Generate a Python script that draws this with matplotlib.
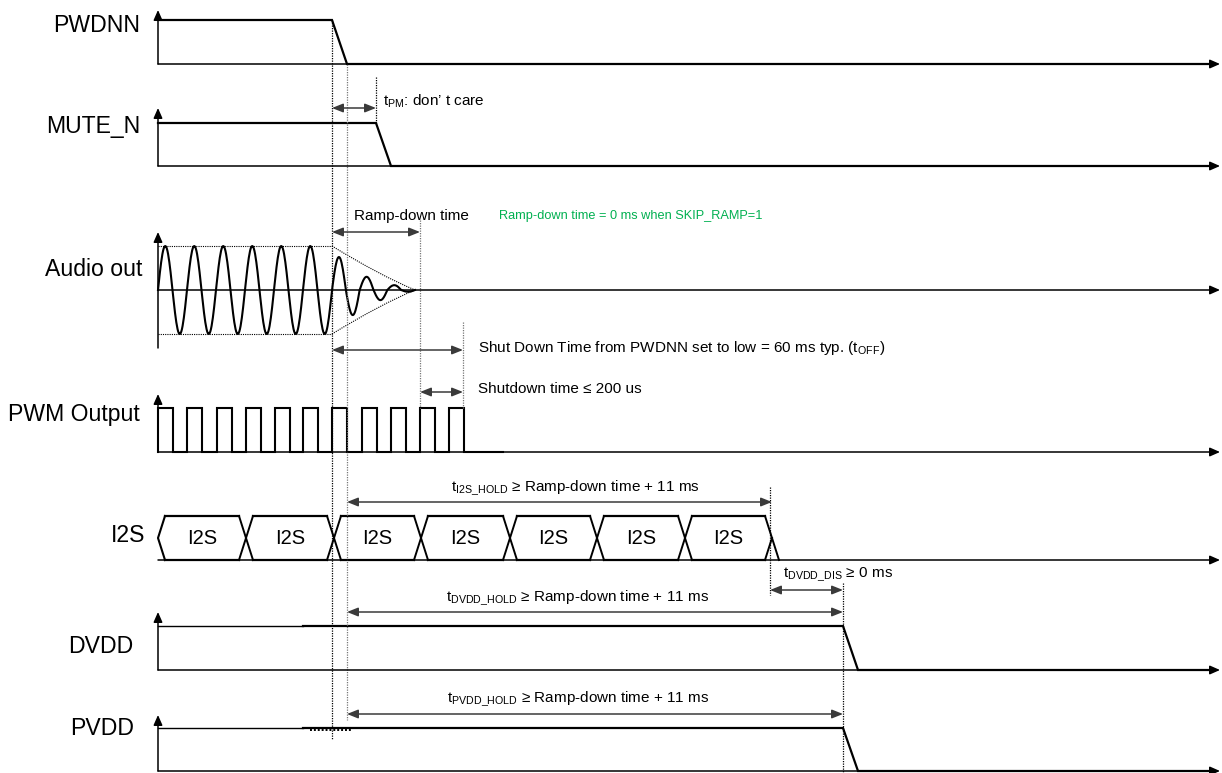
import numpy as np
import matplotlib
matplotlib.use('Agg')
from matplotlib import pyplot
from matplotlib.path import Path
from matplotlib.patches import PathPatch

pyplot.rcParams['font.family'] = ['Liberation Sans', 'DejaVu Sans']
pyplot.rcParams['mathtext.fontset'] = 'custom'
pyplot.rcParams['mathtext.rm'] = 'Liberation Sans'
pyplot.rcParams['mathtext.default'] = 'regular'

# Timing events, in time units from the start of each trace
T_PWDNN_LOW = 174
T_MUTE_LOW = 218
T_AUDIO_SILENT = 257
T_RAMP_END = 262
T_PWM_STOP = 305
T_I2S_STOP = 612
T_SUPPLY_OFF = 685
T_EDGE = 15

# PWM rising edges before the output stage shuts down
PWM_RISES = [0, 29, 59, 88, 117, 145, 174, 204, 233, 262, 291]
PWM_HIGH_TIME = 14.5

# Audio half-wave amplitudes (1 = full scale): steady, then ramping down
AUDIO_STEADY = [1, 1, 1, 1, 1, 1, 1, 1, 1, 1, 1, 1]
AUDIO_RAMP = [0.75, 0.57, 0.30, 0.23, 0.11, 0.04]

# I2S frame boundaries and frame labels
I2S_EDGES = [0, 88, 176, 263, 352, 439, 527, 614]
I2S_LABELS = ['I2S', 'I2S', 'I2S', 'I2S', 'I2S', 'I2S', 'I2S']

# Trace layout (screen rows, y grows downwards)
X0 = 158
T_AXIS_END = 1062
LINE = 'black'
DIM = '#3a3a3a'
GREEN = '#00b050'


def trace_axes(ax, y_low, y_tip, y_start=None, vertical=True):
    head = dict(arrowstyle='-|>,head_length=0.5,head_width=0.22', mutation_scale=12,
                lw=1.1, color=LINE, shrinkA=0, shrinkB=0)
    if vertical:
        ax.annotate('', xy=(0, y_tip), xytext=(0, y_start if y_start else y_low), arrowprops=head)
    ax.annotate('', xy=(T_AXIS_END, y_low), xytext=(0, y_low), arrowprops=head)


def logic_trace(ax, y_high, y_low, t_fall):
    ax.plot([0, t_fall, t_fall + T_EDGE, T_AXIS_END - 8], [y_high, y_high, y_low, y_low],
            color=LINE, lw=1.6, solid_joinstyle='miter')


def dimension(ax, t0, t1, y):
    ax.annotate('', xy=(t1, y), xytext=(t0, y),
                arrowprops=dict(arrowstyle='<|-|>,head_length=0.55,head_width=0.22', mutation_scale=12,
                                lw=1.1, color=DIM, shrinkA=0, shrinkB=0))


def marker(ax, t, y0, y1, color='black'):
    ax.plot([t, t], [y0, y1], color=color, lw=0.9, ls=(0, (1, 1)))


figure = pyplot.figure(figsize=(12.22, 7.73), dpi=100)
ax = figure.add_axes([0, 0, 1, 1])
ax.set_xlim(-X0, 1222 - X0)
ax.set_ylim(773, 0)
ax.axis('off')

label_style = dict(fontsize=16.6, ha='right', va='baseline')
note_style = dict(fontsize=11, ha='left', va='center')

# PWDNN
ax.text(140 - X0, 32.5, 'PWDNN', **label_style)
trace_axes(ax, 64, 10)
logic_trace(ax, 20, 64, T_PWDNN_LOW)

# MUTE_N
ax.text(140 - X0, 133, 'MUTE_N', **label_style)
trace_axes(ax, 166, 108)
logic_trace(ax, 123, 166, T_MUTE_LOW)
dimension(ax, T_PWDNN_LOW, T_MUTE_LOW, 108)
ax.text(383 - X0, 101, 't$_{PM}$: don\u2019 t care', **note_style)

# Audio out
mid, amp = 290, 44
ax.text(142 - X0, 276, 'Audio out', **label_style)
trace_axes(ax, mid, 232, y_start=348)
wave_t, wave_y = [], []
lobes = [(a, T_PWDNN_LOW / len(AUDIO_STEADY), 0, i) for i, a in enumerate(AUDIO_STEADY)]
width_ramp = (T_AUDIO_SILENT - T_PWDNN_LOW) / len(AUDIO_RAMP)
lobes += [(a, width_ramp, T_PWDNN_LOW, i) for i, a in enumerate(AUDIO_RAMP)]
for k, (a, w, start, i) in enumerate(lobes):
    s = start + i * w
    t = np.linspace(s, s + w, 24)
    sign = 1 if k % 2 == 0 else -1
    wave_t.extend(t)
    wave_y.extend(mid - sign * a * amp * np.sin(np.pi * (t - s) / w))
ax.plot(wave_t, wave_y, color=LINE, lw=1.5)
for edge in (mid - amp, mid + amp):
    ax.plot([0, T_PWDNN_LOW], [edge, edge], color=LINE, lw=0.8, ls=(0, (1, 1)))
    bend = mid + (edge - mid) * 0.33
    env = Path([(T_PWDNN_LOW, edge), (222, bend), (T_AUDIO_SILENT, mid)],
               [Path.MOVETO, Path.CURVE3, Path.CURVE3])
    ax.add_patch(PathPatch(env, facecolor='none', edgecolor=LINE, lw=0.8, ls=(0, (1, 1))))
dimension(ax, T_PWDNN_LOW, T_RAMP_END, 232)
ax.text(354 - X0, 216, 'Ramp-down time', **note_style)
ax.text(499 - X0, 216, 'Ramp-down time = 0 ms when SKIP_RAMP=1', fontsize=9.2, color=GREEN,
        ha='left', va='center')
dimension(ax, T_PWDNN_LOW, T_PWM_STOP, 350)
ax.text(478 - X0, 348, 'Shut Down Time from PWDNN set to low = 60 ms typ. (t$_{OFF}$)', **note_style)
dimension(ax, T_RAMP_END, T_PWM_STOP, 392)
ax.text(478 - X0, 389, 'Shutdown time \u2264 200 us', **note_style)

# PWM output
pwm_hi, pwm_lo = 408, 452
ax.text(140 - X0, 421, 'PWM Output', **label_style)
trace_axes(ax, pwm_lo, 394)
pwm_t, pwm_y = [], []
for r in PWM_RISES:
    pwm_t += [r, r, r + PWM_HIGH_TIME, r + PWM_HIGH_TIME]
    pwm_y += [pwm_lo, pwm_hi, pwm_hi, pwm_lo]
pwm_t.append(T_PWM_STOP + 40)
pwm_y.append(pwm_lo)
ax.plot(pwm_t, pwm_y, color=LINE, lw=1.5, solid_joinstyle='miter')

# I2S bus
bus_top, bus_bot = 516, 560
bus_mid = (bus_top + bus_bot) / 2
h = 7
ax.text(145 - X0, 542, 'I2S', **label_style)
trace_axes(ax, bus_bot, None, vertical=False)
ax.plot([h, 0, h], [bus_top, bus_mid, bus_bot], color=LINE, lw=1.5)
for left, right, name in zip(I2S_EDGES[:-1], I2S_EDGES[1:], I2S_LABELS):
    a = left + h if left > 0 else h
    b = right - h
    ax.plot([a, b], [bus_top, bus_top], color=LINE, lw=1.6)
    ax.plot([a, b], [bus_bot, bus_bot], color=LINE, lw=1.6)
    ax.text((a + b) / 2, bus_mid + 5.5, name, fontsize=14.5, ha='center', va='baseline')
for c in I2S_EDGES[1:-1]:
    ax.plot([c - h, c + h], [bus_top, bus_bot], color=LINE, lw=1.4)
    ax.plot([c - h, c + h], [bus_bot, bus_top], color=LINE, lw=1.4)
stop = I2S_EDGES[-1]
ax.plot([stop - h, stop + h], [bus_top, bus_bot], color=LINE, lw=1.4)
ax.plot([stop, stop - h], [bus_mid, bus_bot], color=LINE, lw=1.4)
dimension(ax, T_PWDNN_LOW + T_EDGE, T_I2S_STOP + 2, 502)
ax.text(575 - X0, 488, 't$_{I2S\\_HOLD}$ \u2265 Ramp-down time + 11 ms', fontsize=11,
        ha='center', va='center')
dimension(ax, T_I2S_STOP, T_SUPPLY_OFF, 590)
ax.text(783 - X0, 575, 't$_{DVDD\\_DIS}$ \u2265 0 ms', **note_style)

# DVDD and PVDD supplies
for name, lx, ly, hi, lo, tip, arrow_y, text_y in [
        ('DVDD', 133, 653, 626, 670, 612, 612, 598),
        ('PVDD', 134, 735, 728, 771, 715, 714, 699)]:
    ax.text(lx - X0, ly, name, **label_style)
    trace_axes(ax, lo, tip)
    ax.plot([0, 145], [hi, hi], color=LINE, lw=1.0)
    ax.plot([145, T_SUPPLY_OFF, T_SUPPLY_OFF + T_EDGE, T_AXIS_END - 8], [hi, hi, lo, lo],
            color=LINE, lw=1.6, solid_joinstyle='miter')
    dimension(ax, T_PWDNN_LOW + T_EDGE, T_SUPPLY_OFF, arrow_y)
    ax.text(578 - X0, text_y, 't$_{' + name + '\\_HOLD}$ \u2265 Ramp-down time + 11 ms', fontsize=11,
            ha='center', va='center')
ax.plot([152, 194], [730, 730], color=LINE, lw=1.4, ls=(0, (1, 1)))

# Event markers
marker(ax, T_PWDNN_LOW, 20, 740)
marker(ax, T_PWDNN_LOW + T_EDGE, 64, 720, color='#777777')
marker(ax, T_MUTE_LOW, 77, 123)
marker(ax, T_RAMP_END, 220, 408, color='#777777')
marker(ax, T_PWM_STOP, 322, 408, color='#777777')
marker(ax, T_I2S_STOP, 487, 595)
marker(ax, T_SUPPLY_OFF, 583, 773)

figure.savefig('out.png', dpi=100)
